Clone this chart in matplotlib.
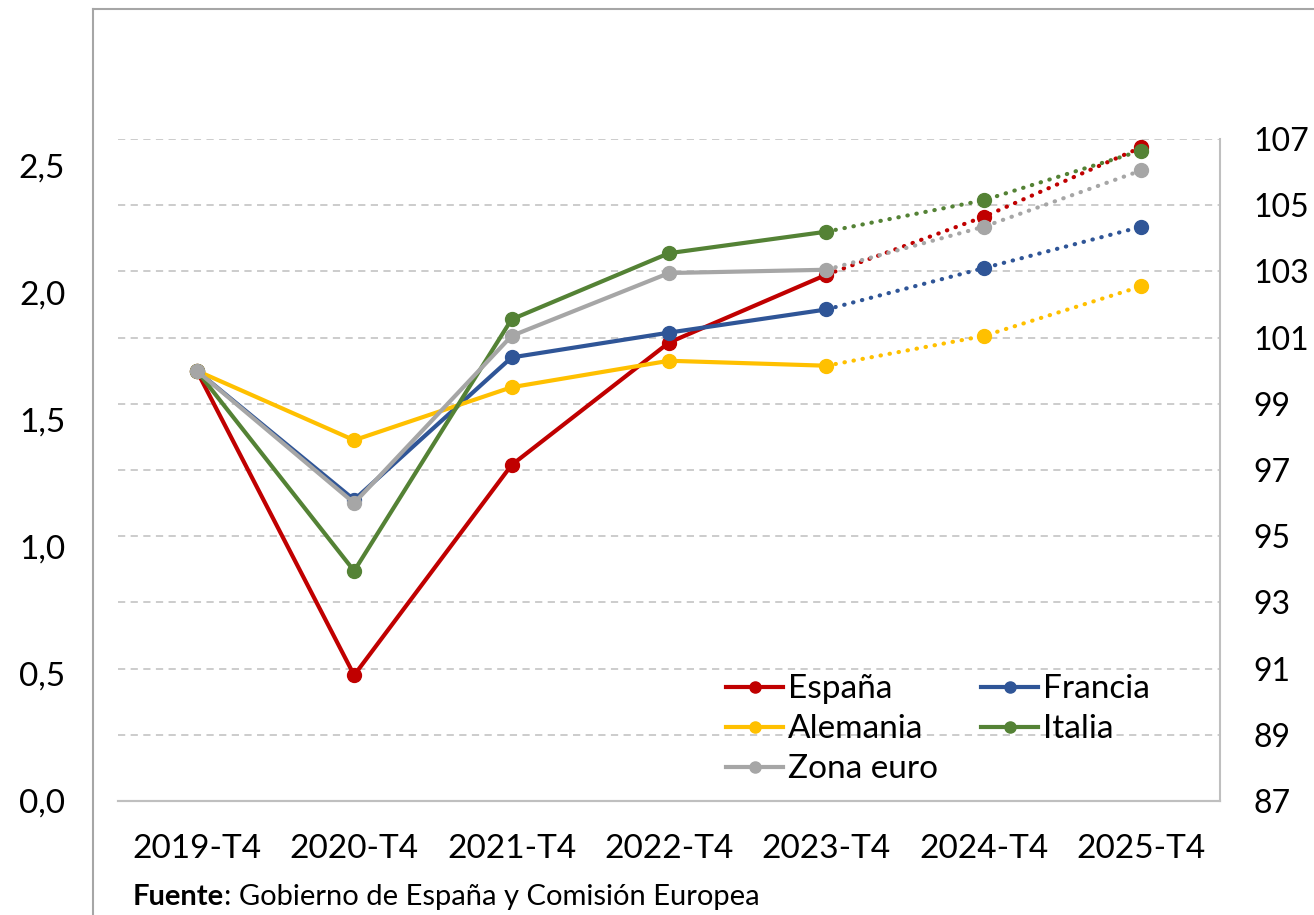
import matplotlib.pyplot as plt
import matplotlib.ticker as mticker
from matplotlib.lines import Line2D

plt.rcParams['font.family'] = ['Lato', 'DejaVu Sans']

# datos (indice 2019-T4 = 100)
periodos = ['2019-T4', '2020-T4', '2021-T4', '2022-T4', '2023-T4', '2024-T4', '2025-T4']
espana = [100.0, 90.8, 97.15, 100.85, 102.9, 104.65, 106.75]
francia = [100.0, 96.1, 100.4, 101.15, 101.85, 103.1, 104.35]
alemania = [100.0, 97.9, 99.5, 100.3, 100.15, 101.05, 102.55]
italia = [100.0, 93.95, 101.55, 103.55, 104.2, 105.15, 106.65]
zona_euro = [100.0, 96.0, 101.05, 102.95, 103.05, 104.35, 106.05]
nombres = ['España', 'Francia', 'Alemania', 'Italia', 'Zona euro']
series = [espana, francia, alemania, italia, zona_euro]
colores = ['#C00000', '#2F5597', '#FFC000', '#548235', '#A6A6A6']
n_real = 5  # hasta 2023-T4 datos observados, luego previsiones

fig = plt.figure(figsize=(13.14, 9.15), dpi=100)
ax = fig.add_axes([0.0898, 0.1246, 0.8387, 0.7235])
ax2 = ax.twinx()

x = list(range(len(periodos)))
for nom, ys, col in zip(nombres, series, colores):
    ax2.plot(x[:n_real], ys[:n_real], color=col, lw=3, marker='o', ms=10,
             solid_capstyle='round', zorder=3)
    ax2.plot(x[n_real - 1:], ys[n_real - 1:], color=col, lw=3,
             linestyle=(0, (0.1, 2.1)), dash_capstyle='round', zorder=3)
    ax2.plot(x[n_real:], ys[n_real:], color=col, lw=0, marker='o', ms=10, zorder=3)

ax2.set_ylim(87, 107)
ax2.yaxis.set_major_locator(mticker.FixedLocator(range(87, 108, 2)))
ax2.grid(axis='y', color='#C8C8C8', linestyle=(0, (4, 3)), lw=1.3)
ax2.set_axisbelow(True)
ax2.tick_params(axis='y', length=0, labelsize=23, pad=24)

ax.set_ylim(0, 2.606)
ax.yaxis.set_major_locator(mticker.MultipleLocator(0.5))
ax.yaxis.set_major_formatter(mticker.FuncFormatter(lambda v, p: f'{v:.1f}'.replace('.', ',')))
ax.tick_params(axis='y', length=0, labelsize=24, pad=38)
ax.set_xlim(-0.5, len(periodos) - 0.5)
ax.set_xticks(x)
ax.set_xticklabels(periodos)
ax.tick_params(axis='x', length=0, labelsize=24, pad=24)

for a in (ax, ax2):
    a.spines['top'].set_visible(False)
    a.spines['left'].set_visible(False)
    a.spines['right'].set_visible(False)
    a.spines['bottom'].set_color('#BFBFBF')
    a.spines['bottom'].set_linewidth(1.5)
ax2.spines['right'].set_visible(True)
ax2.spines['right'].set_color('#BFBFBF')
ax2.spines['right'].set_linewidth(1.5)

# leyenda por filas: Espana, Francia / Alemania, Italia / Zona euro
orden = [0, 2, 4, 1, 3]
leg_h = [Line2D([], [], color=colores[i], lw=3, marker='o', ms=8) for i in orden]
ax2.legend(leg_h, [nombres[i] for i in orden], loc='lower left', bbox_to_anchor=(0.537, 0.0),
           ncol=2, frameon=False, fontsize=24, handlelength=1.7, handletextpad=0.15,
           columnspacing=1.3, labelspacing=0.3, borderpad=0)

# marco del grafico
fig.add_artist(Line2D([93 / 1314, 1], [1 - 9 / 915, 1 - 9 / 915], color='#A6A6A6', lw=1.5))
fig.add_artist(Line2D([93 / 1314, 93 / 1314], [0, 1 - 9 / 915], color='#A6A6A6', lw=1.5))

t1 = fig.text(133 / 1314, 1 - 897 / 915, 'Fuente', fontsize=21, fontweight='bold', va='center')
fig.canvas.draw()
bb = t1.get_window_extent()
fig.text(bb.x1 / 1314, 1 - 897 / 915, ': Gobierno de España y Comisión Europea',
         fontsize=21, va='center')

fig.savefig('out.png', dpi=100)
